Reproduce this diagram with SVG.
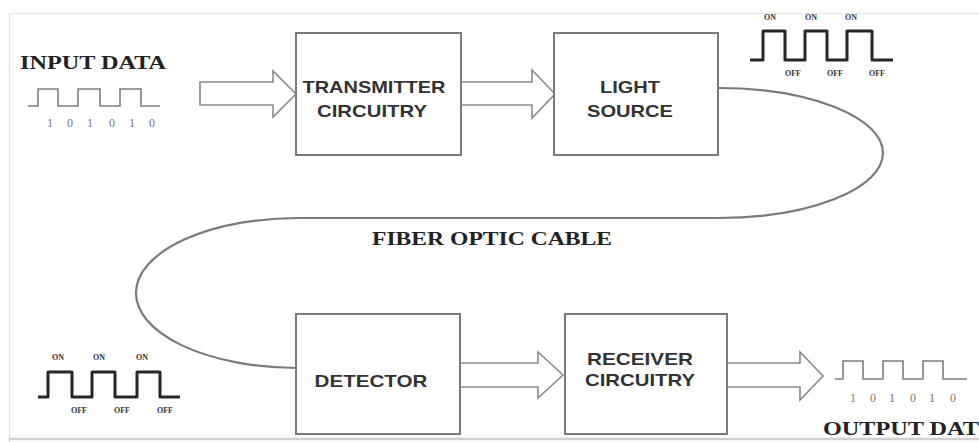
<svg xmlns="http://www.w3.org/2000/svg" width="979" height="442" viewBox="0 0 979 442">
<style>
.box{fill:#fff;stroke:#7a7a7a;stroke-width:2}
.lbl{font-family:"Liberation Sans",Arial,sans-serif;font-weight:bold;font-size:17px;fill:#333;text-anchor:middle}
.ttl{font-family:"Liberation Serif","Times New Roman",serif;font-weight:bold;font-size:19px;fill:#222}
.arrow{fill:#fff;stroke:#8a8a8a;stroke-width:1.6;stroke-linejoin:miter}
.cable{fill:none;stroke:#7a7a7a;stroke-width:2.2}
.wthin{fill:none;stroke:#7d7d7d;stroke-width:1.6}
.wthick{fill:none;stroke:#262626;stroke-width:3;stroke-linejoin:round}
.dig{font-family:"Liberation Serif","Times New Roman",serif;font-size:12px;fill:#777;text-anchor:middle}
.oo{font-family:"Liberation Serif","Times New Roman",serif;font-weight:bold;font-size:8px;fill:#333;text-anchor:middle}
</style>
<rect x="0" y="0" width="979" height="442" fill="#fff"/>
<g id="frame" fill="none">
<line x1="9.5" y1="13" x2="9.5" y2="442" stroke="#e2e2e2" stroke-width="1.5"/>
<line x1="9" y1="13.5" x2="979" y2="13.5" stroke="#ececec" stroke-width="1.5"/>
<line x1="9" y1="439" x2="979" y2="439" stroke="#d0d0d0" stroke-width="2.5"/>
</g>
<g id="connectors">
<path class="cable" d="M718,88 A165,65 0 0 1 718,218 L300,218 A162,75 0 0 0 296,368"/>
<path id="a-in" class="arrow" d="M200,82 H273 V71 L296,94 L273,117 V105 H200 Z"/>
<path id="a-tx-ls" class="arrow" d="M461,82 H532 V70 L555,94 L532,118 V105 H461"/>
<path id="a-det-rx" class="arrow" d="M460,363 H538 V352 L563,375 L538,398 V387 H460"/>
<path id="a-rx-out" class="arrow" d="M727,363 H800 V352 L823,376 L800,400 V387 H727"/>
</g>
<g id="transmitter">
<rect class="box" x="296" y="33" width="165" height="122"/>
<text class="lbl" x="374" y="93" textLength="143" lengthAdjust="spacingAndGlyphs">TRANSMITTER</text>
<text class="lbl" x="372" y="117" textLength="110" lengthAdjust="spacingAndGlyphs">CIRCUITRY</text>
</g>
<g id="light-source">
<rect class="box" x="554" y="33" width="164" height="122"/>
<text class="lbl" x="630" y="93" textLength="60" lengthAdjust="spacingAndGlyphs">LIGHT</text>
<text class="lbl" x="630" y="117" textLength="86" lengthAdjust="spacingAndGlyphs">SOURCE</text>
</g>
<g id="detector">
<rect class="box" x="296" y="314" width="164" height="120"/>
<text class="lbl" x="371" y="387" textLength="113" lengthAdjust="spacingAndGlyphs">DETECTOR</text>
</g>
<g id="receiver">
<rect class="box" x="565" y="314" width="162" height="120"/>
<text class="lbl" x="640" y="365" textLength="106" lengthAdjust="spacingAndGlyphs">RECEIVER</text>
<text class="lbl" x="640" y="386" textLength="110" lengthAdjust="spacingAndGlyphs">CIRCUITRY</text>
</g>
<g id="input-data">
<text class="ttl" x="20" y="69" textLength="146" lengthAdjust="spacingAndGlyphs">INPUT DATA</text>
<path class="wthin" d="M28,106 H38 V89 H58 V106 H78 V89 H100 V106 H120 V89 H141 V106 H160"/>
<text class="dig" x="50" y="127">1</text>
<text class="dig" x="70" y="127">0</text>
<text class="dig" x="90" y="127">1</text>
<text class="dig" x="112" y="127">0</text>
<text class="dig" x="132" y="127">1</text>
<text class="dig" x="152" y="127">0</text>
</g>
<g id="fiber-label">
<text class="ttl" x="372" y="245" textLength="240" lengthAdjust="spacingAndGlyphs">FIBER OPTIC CABLE</text>
</g>
<g id="light-signal">
<path class="wthick" d="M750,60 H763 V31 H785 V60 H805 V31 H827 V60 H847 V31 H872 V60 H893"/>
<text class="oo" x="770" y="20">ON</text>
<text class="oo" x="811" y="20">ON</text>
<text class="oo" x="851" y="20">ON</text>
<text class="oo" x="793" y="76">OFF</text>
<text class="oo" x="835" y="76">OFF</text>
<text class="oo" x="877" y="76">OFF</text>
</g>
<g id="detector-signal">
<path class="wthick" d="M38,397 H48 V372 H72 V397 H92 V372 H115 V397 H137 V372 H160 V397 H180"/>
<text class="oo" x="58" y="360">ON</text>
<text class="oo" x="99" y="360">ON</text>
<text class="oo" x="142" y="360">ON</text>
<text class="oo" x="79" y="413">OFF</text>
<text class="oo" x="122" y="413">OFF</text>
<text class="oo" x="165" y="413">OFF</text>
</g>
<g id="output-data">
<path class="wthin" d="M835,379 H843 V361 H863 V379 H883 V361 H903 V379 H923 V361 H943 V379 H967"/>
<text class="dig" x="853" y="402">1</text>
<text class="dig" x="873" y="402">0</text>
<text class="dig" x="892" y="402">1</text>
<text class="dig" x="913" y="402">0</text>
<text class="dig" x="932" y="402">1</text>
<text class="dig" x="953" y="402">0</text>
<text class="ttl" x="823" y="435" textLength="156" lengthAdjust="spacingAndGlyphs">OUTPUT DAT</text>
</g>
</svg>
